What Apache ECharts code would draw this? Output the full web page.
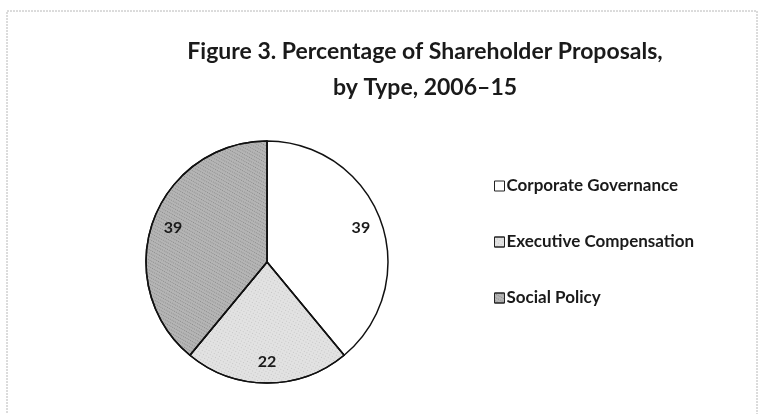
<!DOCTYPE html>
<html>
<head>
<meta charset="utf-8">
<script src="https://cdn.jsdelivr.net/npm/echarts@6/dist/echarts.min.js"></script>
<style>
  html, body { margin: 0; padding: 0; background: #fff; }
  #chart { width: 760px; height: 414px; }
</style>
</head>
<body>
<div id="chart"></div>
<script>
const categories = ["Corporate Governance", "Executive Compensation", "Social Policy"];
const values = [39, 22, 39];
const sliceColors = ["#ffffff", "#e2e2e2", "#b5b5b5"];
// speckle texture over the grey slices, like the printed original
const speckle = [
  null,
  { symbol: "rect", symbolSize: 1, color: "rgba(0,0,0,0.12)", dashArrayX: [1, 2], dashArrayY: [1, 2], rotation: 0.5 },
  { symbol: "rect", symbolSize: 1, color: "rgba(0,0,0,0.22)", dashArrayX: [1, 1], dashArrayY: [1, 2], rotation: 0.5 },
];

const chart = echarts.init(document.getElementById("chart"));

const pieData = categories.map((name, i) => {
  const style = { color: sliceColors[i] };
  if (speckle[i]) style.decal = speckle[i];
  return { name: name, value: values[i], itemStyle: style };
});

const center = [267, 262];
const R = 121;

const options = {
  backgroundColor: "#fff",
  animation: false,
  title: {
    text: "Figure 3. Percentage of Shareholder Proposals,\nby Type, 2006\u201315",
    left: 420,
    top: 29,
    textAlign: "center",
    textStyle: {
      fontFamily: "Lato, sans-serif",
      fontWeight: "bold",
      fontSize: 23,
      lineHeight: 36,
      color: "#1a1a1a",
    },
  },
  legend: {
    orient: "vertical",
    left: 489,
    top: 171,
    itemWidth: 10,
    itemHeight: 10,
    itemGap: 36,
    icon: "rect",
    itemStyle: { borderColor: "#222", borderWidth: 1 },
    textStyle: {
      fontFamily: "Lato, sans-serif",
      fontWeight: "bold",
      fontSize: 17,
      lineHeight: 20,
      color: "#1a1a1a",
      padding: [0, 0, 0, -3],
    },
    data: categories,
  },
  graphic: [
    {
      type: "rect",
      silent: true,
      shape: { x: 7, y: 11, width: 750, height: 420 },
      style: { fill: "none", stroke: "#b8b8b8", lineWidth: 1, lineDash: [2, 1] },
    },
  ],
  series: [
    {
      type: "pie",
      center: center,
      radius: R,
      startAngle: 90,
      clockwise: true,
      label: { show: false },
      labelLine: { show: false },
      itemStyle: { borderColor: "#111", borderWidth: 1.5 },
      emphasis: { disabled: true },
      data: pieData,
    },
    {
      // transparent ring used only to place the value labels near the rim
      type: "pie",
      center: center,
      radius: [R * 0.6, R],
      startAngle: 90,
      clockwise: true,
      silent: true,
      itemStyle: { color: "transparent", borderWidth: 0 },
      label: {
        show: true,
        position: "inside",
        formatter: "{c}",
        fontFamily: "Lato, sans-serif",
        fontWeight: "bold",
        fontSize: 16,
        color: "#1a1a1a",
      },
      labelLine: { show: false },
      emphasis: { disabled: true },
      data: pieData.map((d) => ({ name: d.name, value: d.value })),
    },
  ],
};

chart.setOption(options);
</script>
</body>
</html>
